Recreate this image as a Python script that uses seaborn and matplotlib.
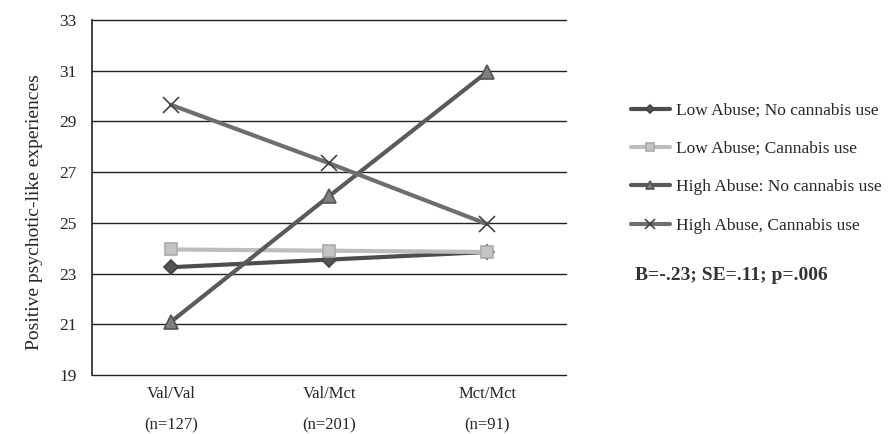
import matplotlib
matplotlib.use("Agg")
import matplotlib.pyplot as plt
import pandas as pd
import seaborn as sns

# data
genotypes = ["Val/Val", "Val/Met", "Met/Met"]
tick_labels = ["Val/Val\n(n=127)", "Val/Mct\n(n=201)", "Mct/Mct\n(n=91)"]
series_names = [
    "Low Abuse; No cannabis use",
    "Low Abuse; Cannabis use",
    "High Abuse: No cannabis use",
    "High Abuse, Cannabis use",
]
low_no_cannabis = [23.25, 23.55, 23.85]
low_cannabis = [23.95, 23.9, 23.85]
high_no_cannabis = [21.1, 26.05, 30.95]
high_cannabis = [29.65, 27.35, 24.95]

rows = []
for name, vals in zip(series_names, [low_no_cannabis, low_cannabis, high_no_cannabis, high_cannabis]):
    for g, v in zip(genotypes, vals):
        rows.append({"genotype": g, "score": v, "group": name})
df = pd.DataFrame(rows)

sns.set_style("white")
plt.rcParams["font.family"] = ["Liberation Serif", "DejaVu Serif"]

fig = plt.figure(figsize=(8.88, 4.34), dpi=100)
ax = fig.add_axes([0.1036, 0.136, 0.534, 0.818])

styles = {
    series_names[0]: dict(color="#4d4d4d", marker="D", ms=7, mfc="#555555", mec="#444444"),
    series_names[1]: dict(color="#bdbdbd", marker="s", ms=9, mfc="#c4c4c4", mec="#aaaaaa"),
    series_names[2]: dict(color="#5a5a5a", marker="^", ms=10, mfc="#808080", mec="#555555"),
    series_names[3]: dict(color="#6e6e6e", marker="x", ms=11, mfc="none", mec="#444444"),
}

for name in series_names:
    st = styles[name]
    sns.lineplot(data=df[df["group"] == name], x="genotype", y="score", ax=ax,
                 color=st["color"], linewidth=3, marker=st["marker"],
                 markersize=st["ms"], markerfacecolor=st["mfc"],
                 markeredgecolor=st["mec"], markeredgewidth=1.2,
                 label=name, sort=False)

ax.set_ylim(19, 33)
ax.set_yticks(range(19, 34, 2))
ax.set_xlim(-0.5, 2.5)
ax.set_xticks(range(len(genotypes)))
ax.set_xticklabels(tick_labels, linespacing=2.3)
ax.yaxis.grid(True, color="#222222", linewidth=1)
ax.xaxis.grid(False)
ax.set_axisbelow(True)
for gl in ax.get_ygridlines():
    gl.set_clip_on(False)
for side in ["top", "right", "bottom"]:
    ax.spines[side].set_visible(False)
ax.spines["left"].set_color("#222222")
ax.spines["left"].set_linewidth(1.2)
ax.tick_params(axis="y", length=5, width=1, color="#222222", labelsize=12.5, pad=6)
ax.tick_params(axis="x", length=0, labelsize=12, pad=8)
ax.set_xlabel("")
ax.set_ylabel("Positive psychotic-like experiences", fontsize=14, labelpad=12)
ax.yaxis.label.set_y(0.46)

handles, labels = ax.get_legend_handles_labels()
ax.legend(handles, labels, loc="upper left", bbox_to_anchor=(1.121, 0.787),
          frameon=False, fontsize=12.5, handlelength=2.3, handletextpad=0.3,
          labelspacing=1.28, markerscale=0.6, borderaxespad=0)

fig.text(0.715, 0.365, "B=-.23; SE=.11; p=.006", fontsize=14,
         fontweight="bold", color="#333333", va="center")

fig.savefig("out.png", dpi=100)
